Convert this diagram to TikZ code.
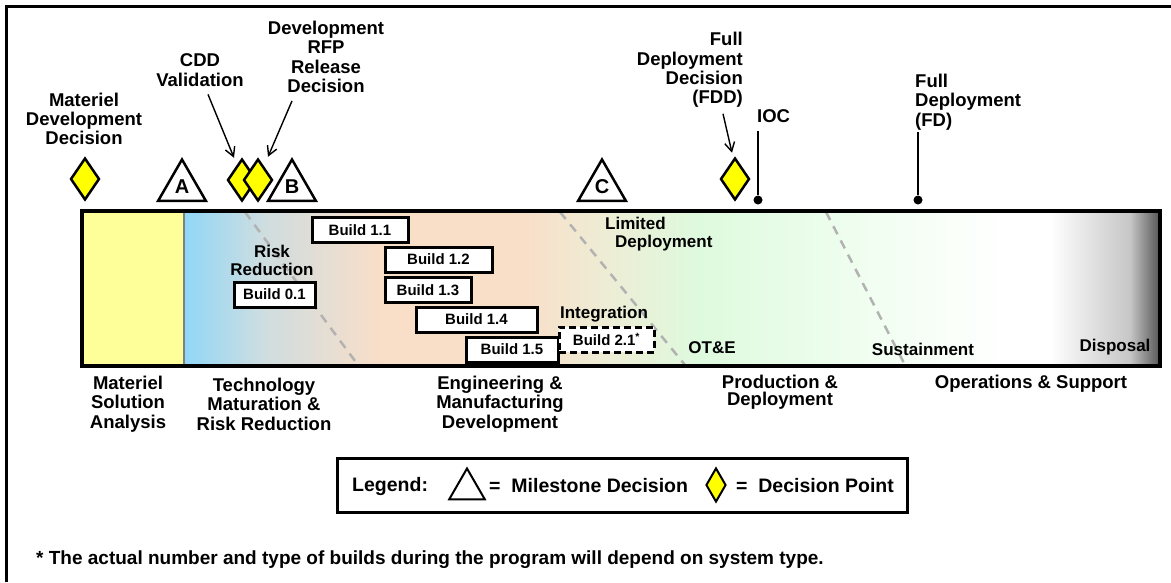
\documentclass[tikz,border=0pt]{standalone}
\usepackage{fontspec}
\setmainfont{Liberation Sans}
\usetikzlibrary{shapes.geometric,arrows.meta}

\definecolor{msayellow}{RGB}{255,255,153}
\definecolor{dpyellow}{RGB}{255,255,0}
\definecolor{tmrrblue}{RGB}{145,215,248}
\definecolor{tmrrgray}{RGB}{206,221,224}
\definecolor{emdpeach}{RGB}{249,222,200}
\definecolor{pdbeige}{RGB}{238,236,212}
\definecolor{pdgreen}{RGB}{222,250,222}
\definecolor{ospale}{RGB}{242,254,242}
\definecolor{dispgray}{RGB}{85,85,85}

\begin{document}
\begin{tikzpicture}[x=1pt,y=-1pt,
  toplbl/.style={font=\bfseries\fontsize{18.5}{19.3}\selectfont, align=center, inner sep=0pt},
  barlbl/.style={font=\bfseries\fontsize{17}{18}\selectfont, inner sep=0pt},
  phaselbl/.style={font=\bfseries\fontsize{18.5}{19.5}\selectfont, align=center, inner sep=0pt},
  legendlbl/.style={font=\bfseries\fontsize{19.5}{19.5}\selectfont, inner sep=0pt},
  build/.style={draw, line width=3pt, fill=white, minimum height=25pt, inner sep=0pt,
    font=\bfseries\fontsize{15}{15}\selectfont},
  milestone/.style={regular polygon, regular polygon sides=3, draw, line width=2.5pt,
    fill=white, minimum size=55pt, inner sep=0pt, font=\bfseries\fontsize{20}{20}\selectfont},
  dpoint/.style={diamond, draw, line width=2.5pt, fill=dpyellow, inner sep=0pt,
    minimum width=29pt, minimum height=42pt},
  dot/.style={circle, fill=black, inner sep=0pt, minimum size=9pt},
  pointer/.style={-{Straight Barb[length=9pt,width=10pt]}, line width=1.4pt},
  phaseline/.style={gray!60, line width=2.5pt, dash pattern=on 9pt off 7pt}]

  \useasboundingbox (0,0) rectangle (1171,582);
  \draw[line width=3.5pt] (6.5,582) -- (6.5,6.5) -- (1171,6.5); % frame

  % life cycle bar
  \fill[msayellow] (82,211) rectangle (184,366);
  \shade[left color=tmrrblue, right color=tmrrgray] (184,211) rectangle (263,366);
  \shade[left color=tmrrgray, right color=emdpeach] (262,211) rectangle (381,366);
  \fill[emdpeach] (380,211) rectangle (521,366);
  \shade[left color=emdpeach, right color=pdbeige] (520,211) rectangle (601,366);
  \shade[left color=pdbeige, right color=pdgreen] (600,211) rectangle (701,366);
  \shade[left color=pdgreen, right color=ospale] (700,211) rectangle (881,366);
  \shade[left color=ospale, right color=white] (880,211) rectangle (1011,366);
  \fill[white] (1010,211) rectangle (1051,366);
  \shade[left color=white, right color=gray!45] (1050,211) rectangle (1131,366);
  \shade[left color=gray!45, right color=dispgray] (1130,211) rectangle (1160,366);
  \draw[gray, line width=2pt] (184,211) -- (184,366);

  \draw[phaseline] (245,212) -- (358,365);
  \draw[phaseline] (560,212) -- (685,365);
  \draw[phaseline] (826,212) -- (905,365);
  \draw[line width=3.5pt] (82,211) rectangle (1160,366);

  % labels in the bar
  \node[barlbl, align=center] (risk) at (272,260) {Risk\\Reduction};
  \node[barlbl, align=left, anchor=west] (ltd) at (605,234) {Limited\\\hspace*{10pt}Deployment};
  \node[barlbl] (integ) at (604,314) {Integration};
  \node[barlbl] (ote) at (712,348) {OT\&E};
  \node[barlbl] (sust) at (923,349) {Sustainment};
  \node[barlbl] (disp) at (1115,347) {Disposal};

  % builds
  \node[build, minimum width=81pt] (b01) at (274.5,294.5) {Build 0.1};
  \node[build, minimum width=96pt] (b11) at (360,230) {Build 1.1};
  \node[build, minimum width=107pt] (b12) at (438.5,259.5) {Build 1.2};
  \node[build, minimum width=86pt] (b13) at (428,290) {Build 1.3};
  \node[build, minimum width=121pt] (b14) at (476.5,319.5) {Build 1.4};
  \node[build, minimum width=92pt] (b15) at (512,349.5) {Build 1.5};
  \node[build, dash pattern=on 7pt off 4pt, minimum width=95pt] (b21) at (606.5,339.5) {Build 2.1\textsuperscript{*}};

  % milestones and decision points
  \node[dpoint] (dmdd) at (85,179) {};
  \node[milestone] (msa) at (182,187) {A};
  \node[dpoint] (dcdd) at (242,180) {};
  \node[dpoint] (drfp) at (258,180) {};
  \node[milestone] (msb) at (292,187) {B};
  \node[milestone] (msc) at (602,187) {C};
  \node[dpoint] (dfdd) at (735,179) {};
  \node[dot] (iocdot) at (758,200) {};
  \node[dot] (fddot) at (918,200) {};
  \coordinate (ioctop) at (758,131);
  \coordinate (fdtop) at (918,132);

  % decision labels
  \node[toplbl] (mddtxt) at (84,119) {Materiel\\Development\\Decision};
  \node[toplbl] (cddtxt) at (200,70) {CDD\\Validation};
  \node[toplbl] (rfptxt) at (326,57) {Development\\RFP\\Release\\Decision};
  \node[toplbl, align=right, anchor=east] (fddtxt) at (743,70) {Full\\Deployment\\Decision\\(FDD)};
  \node[toplbl, anchor=west] (ioctxt) at (757,116) {IOC};
  \node[toplbl, align=left, anchor=west] (fdtxt) at (915,102) {Full\\Deployment\\(FD)};

  \draw[pointer] ([xshift=8pt,yshift=-8pt]cddtxt.south) -- ([xshift=-8pt]dcdd.north);
  \draw[pointer] ([xshift=-34pt,yshift=-8pt]rfptxt.south) -- ([xshift=10pt,yshift=1pt]drfp.north);
  \draw[pointer] ([xshift=-20pt,yshift=-6pt]fddtxt.south east) -- ([xshift=-3pt,yshift=4pt]dfdd.north);
  \draw[line width=1.5pt] (iocdot) -- (ioctop);
  \draw[line width=1.5pt] (fddot) -- (fdtop);

  % phases
  \node[phaselbl] (msaph) at (128,404) {Materiel\\Solution\\Analysis};
  \node[phaselbl] (tmrrph) at (264,404) {Technology\\Maturation \&\\Risk Reduction};
  \node[phaselbl] (emdph) at (500,404) {Engineering \&\\Manufacturing\\Development};
  \node[phaselbl, font=\bfseries\fontsize{18.5}{17.5}\selectfont] (pdph) at (780,392) {Production \&\\Deployment};
  \node[phaselbl] (osph) at (1031,384) {Operations \& Support};

  % legend
  \draw[line width=3pt] (337,458) rectangle (907,512);
  \node[legendlbl, anchor=west] (leg) at (352,486) {Legend:};
  \node[milestone, minimum size=41pt, line width=2pt] (legms) at (467,489) {};
  \node[legendlbl, anchor=west] (legmstxt) at (489,486) {=\ \ Milestone Decision};
  \node[dpoint, minimum width=20pt, minimum height=34pt, line width=2pt] (legdp) at (716,485) {};
  \node[legendlbl, anchor=west] (legdptxt) at (736,486) {=\ \ Decision Point};

  \node[anchor=west, inner sep=0pt, font=\bfseries\fontsize{19}{19}\selectfont] (note) at (36,560)
    {* The actual number and type of builds during the program will depend on system type.};
\end{tikzpicture}
\end{document}
